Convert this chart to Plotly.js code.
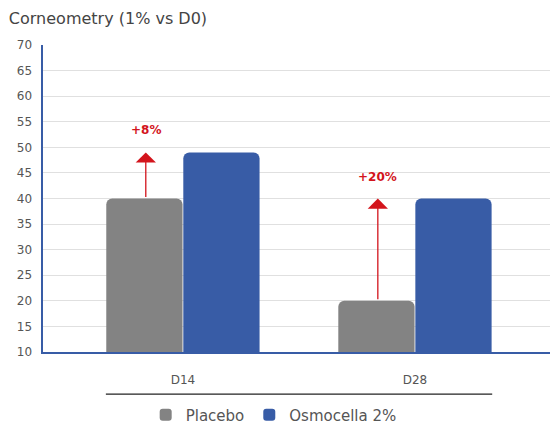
<!DOCTYPE html>
<html><head><meta charset="utf-8">
<script src="https://cdn.plot.ly/plotly-3.0.1.min.js"></script>
<style>html,body{margin:0;padding:0;background:#fff}#chart{width:553px;height:425px}</style>
</head><body><div id="chart"></div>
<script>
const categories = ['D14', 'D28'];
const placebo = [40, 20];
const osmocella = [49, 40];
const gains = ['+8%', '+20%'];
const yTicks = [10, 15, 20, 25, 30, 35, 40, 45, 50, 55, 60, 65, 70];

const gray = '#838383', blue = '#385ca6', red = '#d3141c';
const fontFam = '"DejaVu Sans", Verdana, sans-serif';

const traces = [
  {type: 'bar', name: 'Placebo', x: categories, y: placebo,
   marker: {color: gray, cornerradius: 6}},
  {type: 'bar', name: 'Osmocella 2%', x: categories, y: osmocella,
   marker: {color: blue, cornerradius: 6}}
];

const annotations = [];
categories.forEach((c, i) => {
  annotations.push({x: i - 0.16, y: osmocella[i], ax: i - 0.16, ay: placebo[i],
    xref: 'x', yref: 'y', axref: 'x', ayref: 'y', text: '', showarrow: true,
    arrowhead: 1, arrowsize: 2.6, arrowwidth: 1.3, arrowcolor: red});
  annotations.push({x: i - 0.16, y: osmocella[i], xref: 'x', yref: 'y', text: '<b>' + gains[i] + '</b>',
    showarrow: false, yanchor: 'bottom', yshift: 13, font: {color: red, size: 12, family: fontFam}});
});

const layout = {
  width: 553, height: 425,
  margin: {l: 43, r: 3, t: 45, b: 73, autoexpand: false},
  paper_bgcolor: '#fff', plot_bgcolor: '#fff',
  font: {family: fontFam, color: '#555'},
  title: {text: 'Corneometry (1% vs D0)', x: 0.016, xanchor: 'left', y: 0.957, yanchor: 'middle',
    font: {size: 16, color: '#444', family: fontFam}},
  barmode: 'group', bargap: 0.336, bargroupgap: 0.01,
  xaxis: {type: 'category', range: [-0.603, 1.582], showgrid: false, showline: true,
    linecolor: blue, linewidth: 2, ticks: '', ticklabelstandoff: 16,
    tickfont: {size: 12, color: '#555'}, zeroline: false, fixedrange: true},
  yaxis: {range: [10, 70], tickvals: yTicks, ticktext: yTicks.map(String), showline: true,
    linecolor: blue, linewidth: 2.5, gridcolor: '#e0e0e0', gridwidth: 1, zeroline: false,
    ticks: '', ticklabelstandoff: 6, tickfont: {size: 12, color: '#555'}},
  showlegend: true,
  legend: {orientation: 'h', x: 0.455, xanchor: 'center', y: -0.205, yanchor: 'middle',
    font: {size: 15, color: '#555'}, itemwidth: 30, traceorder: 'normal'},
  shapes: [{type: 'line', xref: 'paper', yref: 'paper', x0: 0.124, x1: 0.886, y0: -0.137, y1: -0.137,
    line: {color: '#222', width: 1.2}}],
  annotations: annotations
};

Plotly.newPlot('chart', traces, layout, {displayModeBar: false, staticPlot: true});
</script></body></html>
